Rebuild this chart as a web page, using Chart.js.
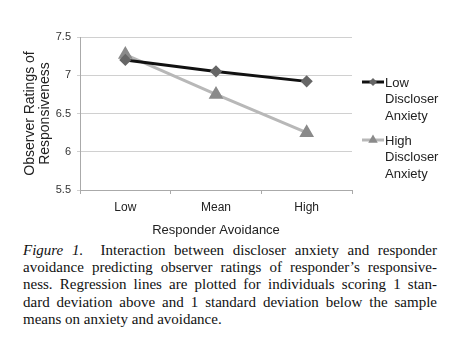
<!DOCTYPE html>
<html><head><meta charset="utf-8">
<script src="https://cdn.jsdelivr.net/npm/chart.js@4/dist/chart.umd.min.js"></script>
<style>
html,body{margin:0;padding:0;background:#fff;}
#wrap{position:relative;width:465px;height:356px;overflow:hidden;}
#c{position:absolute;left:0;top:0;}
#cap{position:absolute;left:23px;top:242px;width:414px;font-family:"Liberation Serif","Times New Roman",serif;font-size:15px;line-height:17.2px;color:#111;}
#cap div{text-align:justify;text-align-last:justify;white-space:nowrap;}
#cap div.last{text-align-last:left;}
</style></head>
<body><div id="wrap"><canvas id="c" width="465" height="242"></canvas>
<div id="cap">
<div><i>Figure 1.</i>&nbsp; Interaction between discloser anxiety and responder</div>
<div>avoidance predicting observer ratings of responder’s responsive-</div>
<div>ness. Regression lines are plotted for individuals scoring 1 stan-</div>
<div>dard deviation above and 1 standard deviation below the sample</div>
<div class="last">means on anxiety and avoidance.</div>
</div></div>
<script>
const categories = ["Low", "Mean", "High"];
const lowAnxiety = [7.2, 7.05, 6.92];
const highAnxiety = [7.27, 6.75, 6.25];
const seriesNames = [["Low", "Discloser", "Anxiety"], ["High", "Discloser", "Anxiety"]];
const yTicks = [5.5, 6, 6.5, 7, 7.5];

const legendPlugin = {
  id: 'customLegend',
  afterDraw(chart) {
    const ctx = chart.ctx;
    const tops = [82, 140];
    chart.data.datasets.forEach((ds, i) => {
      const y = tops[i];
      ctx.save();
      ctx.strokeStyle = ds.borderColor;
      ctx.lineWidth = 3;
      ctx.beginPath(); ctx.moveTo(362, y); ctx.lineTo(384, y); ctx.stroke();
      ctx.restore();
      ctx.save();
      ctx.fillStyle = ds.pointBackgroundColor;
      ctx.strokeStyle = ds.pointBackgroundColor;
      ctx.lineWidth = 1;
      Chart.helpers.drawPoint(ctx, {pointStyle: ds.pointStyle, radius: ds.pointRadius, rotation: 0}, 373, y);
      ctx.fillStyle = '#222';
      ctx.font = '13px "Liberation Sans", Arial, sans-serif';
      ctx.textBaseline = 'middle';
      ctx.textAlign = 'left';
      seriesNames[i].forEach((t, k) => ctx.fillText(t, 385, y + 1 + k * 16.5));
      ctx.restore();
    });
  }
};

new Chart(document.getElementById('c'), {
  type: 'line',
  data: {
    labels: categories,
    datasets: [
      {label: 'Low Discloser Anxiety', data: lowAnxiety, borderColor: '#111', borderWidth: 3,
       pointStyle: 'rectRot', pointRadius: 4, pointBackgroundColor: '#666', pointBorderColor: '#666'},
      {label: 'High Discloser Anxiety', data: highAnxiety, borderColor: '#b8b8b8', borderWidth: 3,
       pointStyle: 'triangle', pointRadius: 5.5, pointBackgroundColor: '#8a8a8a', pointBorderColor: '#8a8a8a'}
    ]
  },
  options: {
    responsive: false, animation: false,
    layout: {padding: {top: 37, right: 113, left: 22, bottom: 0}},
    plugins: {legend: {display: false}, tooltip: {enabled: false}},
    scales: {
      x: {
        offset: true,
        grid: {offset: true, drawOnChartArea: false, drawTicks: true, tickLength: 4, color: '#aaa'},
        border: {color: '#aaa'},
        ticks: {color: '#222', font: {family: '"Liberation Sans", Arial, sans-serif', size: 12}, padding: 6},
        title: {display: true, text: 'Responder Avoidance', color: '#222', font: {family: '"Liberation Sans", Arial, sans-serif', size: 13}, padding: {top: 1}},
        afterFit(s) { s.height = 52; }
      },
      y: {
        min: 5.5, max: 7.5,
        afterBuildTicks(s) { s.ticks = yTicks.map(v => ({value: v})); },
        grid: {color: '#d0d0d0', tickLength: 3, lineWidth: 1},
        border: {color: '#aaa'},
        ticks: {color: '#333', font: {family: '"Liberation Sans", Arial, sans-serif', size: 11}, padding: 6,
                callback: v => String(v)},
        title: {display: true, text: ['Observer Ratings of', 'Responsiveness'], color: '#222',
                font: {family: '"Liberation Sans", Arial, sans-serif', size: 14, lineHeight: 1.1}, padding: 0},
        afterFit(s) { s.width = 58; }
      }
    }
  },
  plugins: [legendPlugin]
});
</script></body></html>
